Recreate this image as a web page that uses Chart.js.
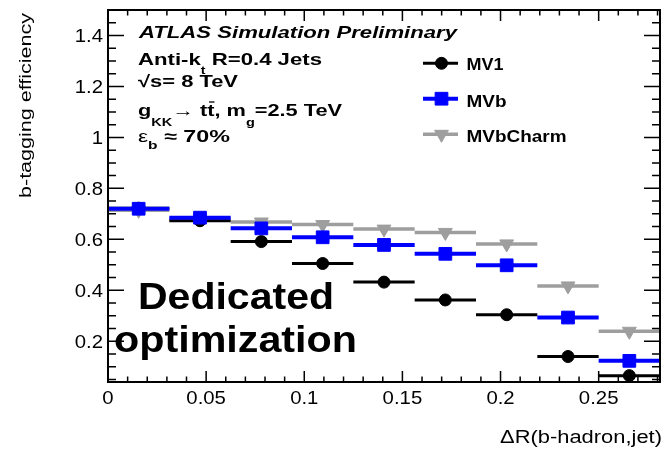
<!DOCTYPE html>
<html>
<head>
<meta charset="utf-8">
<script src="https://cdn.jsdelivr.net/npm/chart.js@4"></script>
<style>
 html,body{margin:0;padding:0;background:#fff}
 canvas{display:block}
</style>
</head>
<body>
<canvas id="c" width="670" height="449"></canvas>
<script>
// bins in dR(b-hadron, jet)
var binEdges = [0, 0.03125, 0.0625, 0.09375, 0.125, 0.15625, 0.1875, 0.21875, 0.25, 0.28125];

// b-tagging efficiency per bin
var mv1      = [0.722, 0.673, 0.591, 0.505, 0.432, 0.362, 0.304, 0.140, 0.065];
var mvb      = [0.720, 0.685, 0.643, 0.608, 0.578, 0.543, 0.498, 0.293, 0.123];
var mvbCharm = [0.714, 0.681, 0.668, 0.658, 0.640, 0.627, 0.582, 0.417, 0.239];

// axis ticks
var xTicks = [0, 0.05, 0.1, 0.15, 0.2, 0.25];
var xTickLabels = ["0", "0.05", "0.1", "0.15", "0.2", "0.25"];
var yTicks = [0.2, 0.4, 0.6, 0.8, 1, 1.2, 1.4];
var yTickLabels = ["0.2", "0.4", "0.6", "0.8", "1", "1.2", "1.4"];

var FONT = '"Liberation Sans", Arial, Helvetica, sans-serif';

var series = [
 {label:"MV1", values:mv1, color:"#000000", style:"circle", radius:6, rotation:0, lw:3, order:2},
 {label:"MVb", values:mvb, color:"#0000ff", style:"rect", radius:9, rotation:0, lw:4, order:0},
 {label:"MVbCharm", values:mvbCharm, color:"#9e9e9e", style:"triangle", radius:8, rotation:180, lw:3.5, order:4}
];

var datasets = [];
series.forEach(function(s){
 var bars = [];
 var pts = [];
 for (var i = 0; i < s.values.length; i++) {
  bars.push({x:binEdges[i], y:s.values[i]});
  bars.push({x:binEdges[i+1], y:s.values[i]});
  bars.push({x:binEdges[i+1], y:null});
  pts.push({x:(binEdges[i] + binEdges[i+1]) / 2, y:s.values[i]});
 }
 datasets.push({
  label:s.label + " bins", data:bars, borderColor:s.color, borderWidth:s.lw,
  pointRadius:0, showLine:true, spanGaps:false, order:s.order + 1, borderCapStyle:"butt"
 });
 datasets.push({
  label:s.label, data:pts, showLine:false, pointStyle:s.style, pointRadius:s.radius,
  pointRotation:s.rotation, pointBackgroundColor:s.color, pointBorderColor:s.color,
  pointBorderWidth:1, order:s.order
 });
});

// draw text with a horizontal stretch so it fills a target width
function drawParts(ctx, parts, x, y, opts) {
 opts = opts || {};
 ctx.save();
 var natural = 0;
 parts.forEach(function(p){ ctx.font = p.font; p.w = ctx.measureText(p.t).width; natural += p.w; });
 var sx = opts.width ? opts.width / natural : (opts.sx || 1);
 var total = natural * sx;
 ctx.translate(x, y);
 if (opts.rotate) ctx.rotate(opts.rotate);
 if (opts.align === "right") ctx.translate(-total, 0);
 if (opts.align === "center") ctx.translate(-total / 2, 0);
 ctx.scale(sx, 1);
 ctx.fillStyle = "#000";
 ctx.textAlign = "left";
 ctx.textBaseline = "alphabetic";
 var cx = 0;
 parts.forEach(function(p){
  ctx.font = p.font;
  ctx.fillText(p.t, cx, p.dy || 0);
  if (p.bar) {
   ctx.strokeStyle = "#000";
   ctx.lineWidth = 1.3;
   ctx.beginPath();
   ctx.moveTo(cx + p.w * 0.25, -13.5);
   ctx.lineTo(cx + p.w * 1.0, -13.5);
   ctx.stroke();
  }
  cx += p.w;
 });
 ctx.restore();
}

function f(style, size) { return style + " " + size + "px " + FONT; }

var rootStyle = {
 id:"rootStyle",
 afterDatasetsDraw:function(chart){
  var ctx = chart.ctx;
  var a = chart.chartArea;
  var xs = chart.scales.x, ys = chart.scales.y;
  ctx.save();

  // ticks, drawn inward on all four sides
  ctx.strokeStyle = "#000";
  ctx.lineWidth = 1.5;
  ctx.beginPath();
  for (var v = 0; v <= 0.2801; v += 0.01) {
   var px = xs.getPixelForValue(v);
   var major = Math.abs(v / 0.05 - Math.round(v / 0.05)) < 1e-6;
   var len = major ? 11 : 5.5;
   ctx.moveTo(px, a.bottom); ctx.lineTo(px, a.bottom - len);
   ctx.moveTo(px, a.top); ctx.lineTo(px, a.top + len);
  }
  for (var w = 0.05; w <= 1.5001; w += 0.05) {
   var py = ys.getPixelForValue(w);
   var majorY = Math.abs(w / 0.2 - Math.round(w / 0.2)) < 1e-6;
   var lenY = majorY ? 16 : 8;
   ctx.moveTo(a.left, py); ctx.lineTo(a.left + lenY, py);
   ctx.moveTo(a.right, py); ctx.lineTo(a.right - lenY, py);
  }
  ctx.stroke();

  // frame
  ctx.lineWidth = 2;
  ctx.strokeRect(a.left, a.top, a.right - a.left, a.bottom - a.top);

  // tick labels
  xTicks.forEach(function(t, i){
   drawParts(ctx, [{t:xTickLabels[i], font:f("normal", 17.7)}], xs.getPixelForValue(t), 404, {sx:1.15, align:"center"});
  });
  yTicks.forEach(function(t, i){
   drawParts(ctx, [{t:yTickLabels[i], font:f("normal", 17.7)}], 103, ys.getPixelForValue(t) + 6.3, {sx:1.15, align:"right"});
  });

  // axis titles
  drawParts(ctx, [{t:"\u0394R(b-hadron,jet)", font:f("normal", 17.5)}], 662, 443, {width:162, align:"right"});
  drawParts(ctx, [{t:"b-tagging efficiency", font:f("normal", 16)}], 30.5, 13, {width:185, align:"right", rotate:-Math.PI / 2});

  // labels
  drawParts(ctx, [{t:"ATLAS Simulation Preliminary", font:f("italic bold", 16.5)}], 139, 37.5, {width:318});
  drawParts(ctx, [
   {t:"Anti-k", font:f("bold", 16.5)},
   {t:"t", font:f("bold", 10.5), dy:9},
   {t:" R=0.4 Jets", font:f("bold", 16.5)}
  ], 138, 65, {width:184});
  drawParts(ctx, [
   {t:"\u221As", font:f("bold", 16.5)},
   {t:"= 8 TeV", font:f("bold", 16.5)}
  ], 138, 87, {width:100});
  drawParts(ctx, [
   {t:"g", font:f("bold", 16.5)},
   {t:"KK", font:f("bold", 11), dy:10},
   {t:"\u2192 ", font:f("normal", 16.5)},
   {t:"t", font:f("bold", 16.5)},
   {t:"t", font:f("bold", 16.5), bar:true},
   {t:", m", font:f("bold", 16.5)},
   {t:"g", font:f("bold", 11), dy:10},
   {t:"=2.5 TeV", font:f("bold", 16.5)}
  ], 138, 115.5, {width:204});
  drawParts(ctx, [
   {t:"\u03B5", font:f("normal", 16)},
   {t:"b", font:f("bold", 11), dy:7},
   {t:" \u2248 70%", font:f("bold", 16.5)}
  ], 138, 141.5, {width:92});

  // legend
  var legendY = [63.3, 98.7, 134.3];
  var legendBase = [70, 106.5, 141.5];
  var legendW = [37, 40, 100];
  series.forEach(function(s, i){
   ctx.strokeStyle = s.color;
   ctx.fillStyle = s.color;
   ctx.lineWidth = s.lw;
   ctx.beginPath();
   ctx.moveTo(423, legendY[i]); ctx.lineTo(458, legendY[i]);
   ctx.stroke();
   ctx.lineWidth = 1;
   Chart.helpers.drawPoint(ctx, {pointStyle:s.style, radius:s.radius, rotation:s.rotation, borderWidth:1}, 441.5, legendY[i]);
   drawParts(ctx, [{t:s.label, font:f("bold", 17)}], 466.5, legendBase[i], {width:legendW[i]});
  });

  // big note
  drawParts(ctx, [{t:"Dedicated", font:f("bold", 36)}], 138, 309, {width:196});
  drawParts(ctx, [{t:"optimization", font:f("bold", 36)}], 114, 352, {width:243});

  ctx.restore();
 }
};

new Chart(document.getElementById("c"), {
 type:"line",
 data:{datasets:datasets},
 options:{
  responsive:false,
  animation:false,
  devicePixelRatio:1,
  events:[],
  layout:{padding:{left:108, right:8, top:6, bottom:67}},
  scales:{
   x:{type:"linear", min:0, max:0.28125, display:false},
   y:{type:"linear", min:0.04, max:1.5, display:false}
  },
  plugins:{legend:{display:false}, tooltip:{enabled:false}}
 },
 plugins:[rootStyle]
});
</script>
</body>
</html>
